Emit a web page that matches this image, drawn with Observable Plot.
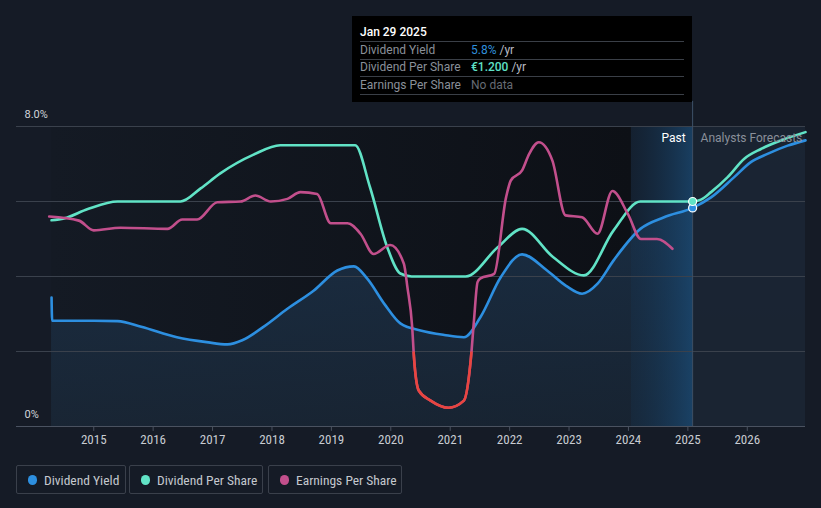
<!DOCTYPE html>
<html>
<head>
<meta charset="utf-8">
<script src="https://cdn.jsdelivr.net/npm/d3@7"></script>
<script src="https://cdn.jsdelivr.net/npm/@observablehq/plot@0.6"></script>
<style>
  html, body { margin: 0; padding: 0; background: #151b26; }
  #wrap { position: relative; width: 821px; height: 508px; background: #151b26; overflow: hidden; font-family: Roboto, "Noto Sans", sans-serif; }
  #chart { position: absolute; left: 0; top: 0; }
  #tip { position: absolute; left: 352px; top: 16px; width: 340px; height: 86px; background: #000; font-size: 12px; }
  #tip .row { position: absolute; left: 8px; width: 324px; height: 17px; border-bottom: 1px solid #3a3f47; }
  #tip .lab { position: absolute; left: 0; bottom: 2px; color: #8a9099; }
  #tip .val { position: absolute; left: 111px; bottom: 2px; color: #b8bcc3; }
  #legend { position: absolute; left: 16px; top: 465px; }
  .lg { position: absolute; top: 0; box-sizing: border-box; border: 1px solid #3a404b; border-radius: 2px; height: 29px; color: #c4c8ce; font-size: 13.5px; font-family: "Liberation Sans Narrow", "Roboto Condensed", "DejaVu Sans Condensed", Roboto, sans-serif; }
  .lg .dot { position: absolute; left: 11px; top: 9px; width: 9px; height: 10px; border-radius: 5px; }
  .lg .t { position: absolute; left: 27px; top: 6px; white-space: nowrap; }
</style>
</head>
<body>
<div id="wrap">
  <div id="chart"></div>
  <div id="tip">
    <div class="row" style="top:8px;height:17px"><span class="lab" style="color:#fff;font-weight:500">Jan 29 2025</span></div>
    <div class="row" style="top:26px"><span class="lab">Dividend Yield</span><span class="val"><span style="color:#2f8fdc">5.8%</span> /yr</span></div>
    <div class="row" style="top:43px"><span class="lab">Dividend Per Share</span><span class="val"><span style="color:#5fe0c6;font-weight:500">€1.200</span> /yr</span></div>
    <div class="row" style="top:61px"><span class="lab">Earnings Per Share</span><span class="val" style="color:#666b74">No data</span></div>
  </div>
  <div id="legend">
    <div class="lg" style="left:0;width:110px"><span class="dot" style="background:#2d8fe0"></span><span class="t">Dividend Yield</span></div>
    <div class="lg" style="left:113px;width:134px"><span class="dot" style="background:#61e3c6"></span><span class="t">Dividend Per Share</span></div>
    <div class="lg" style="left:252px;width:134px"><span class="dot" style="background:#c24f8c"></span><span class="t">Earnings Per Share</span></div>
  </div>
</div>
<script>
// ---- data ----
// Dividend yield (%)
const yieldYears = [2014.29, 2014.30, 2014.6, 2015.0, 2015.40, 2015.8, 2016.40, 2016.9, 2017.25, 2017.5, 2017.85, 2018.26, 2018.7, 2019.10, 2019.38, 2019.6, 2019.9, 2020.16, 2020.50, 2020.9, 2021.23, 2021.51, 2021.85, 2022.21, 2022.63, 2022.95, 2023.22, 2023.48, 2023.75, 2024.2, 2024.6, 2025.08, 2025.39, 2025.78, 2026.06, 2026.34, 2026.68, 2026.98];
const yieldPct   = [3.44, 2.82, 2.82, 2.82, 2.81, 2.66, 2.38, 2.25, 2.19, 2.30, 2.65, 3.14, 3.62, 4.16, 4.27, 3.95, 3.25, 2.75, 2.56, 2.44, 2.38, 2.92, 3.98, 4.59, 4.16, 3.75, 3.54, 3.81, 4.43, 5.27, 5.58, 5.83, 6.11, 6.65, 7.05, 7.27, 7.49, 7.63];
// Dividend per share (EUR)
const dpsYears = [2014.29, 2014.5, 2014.9, 2015.4, 2016.46, 2016.8, 2017.13, 2017.69, 2018.14, 2019.4, 2019.65, 2019.94, 2020.16, 2020.35, 2021.26, 2021.8, 2022.21, 2022.73, 2023.25, 2023.75, 2024.2, 2025.08, 2025.22, 2025.39, 2025.67, 2025.95, 2026.23, 2026.57, 2026.98];
const dpsEur   = [1.10, 1.11, 1.16, 1.20, 1.20, 1.27, 1.35, 1.45, 1.50, 1.50, 1.276, 0.956, 0.816, 0.80, 0.80, 0.956, 1.054, 0.904, 0.806, 1.046, 1.20, 1.20, 1.21, 1.25, 1.33, 1.428, 1.48, 1.526, 1.57];
// Earnings per share (EUR)
const epsYears = [2014.25, 2014.75, 2015.0, 2015.45, 2016.24, 2016.49, 2016.74, 2017.08, 2017.47, 2017.72, 2017.98, 2018.26, 2018.48, 2018.76, 2018.99, 2019.27, 2019.49, 2019.71, 2019.99, 2020.22, 2020.28, 2020.36, 2020.39, 2020.47, 2020.67, 2020.97, 2021.23, 2021.35, 2021.40, 2021.46, 2021.51, 2021.74, 2021.94, 2022.02, 2022.21, 2022.33, 2022.49, 2022.72, 2022.94, 2023.22, 2023.48, 2023.73, 2023.99, 2024.21, 2024.48, 2024.74];
const epsEur   = [1.80, 1.745, 1.615, 1.65, 1.635, 1.76, 1.76, 1.99, 2.0, 2.08, 2.0, 2.035, 2.125, 2.10, 1.71, 1.71, 1.57, 1.30, 1.42, 1.17, 0.855, 0.325, -0.075, -0.52, -0.655, -0.75, -0.655, -0.075, 0.415, 0.925, 0.975, 1.035, 2.055, 2.28, 2.415, 2.635, 2.79, 2.545, 1.815, 1.79, 1.57, 2.14, 1.835, 1.5, 1.5, 1.37];
const yTicks = [0, 2, 4, 6, 8];
const xTicks = [2015, 2016, 2017, 2018, 2019, 2020, 2021, 2022, 2023, 2024, 2025, 2026];
const pastStart = 2024.05, today = 2025.08, dataStart = 2014.29, xEnd = 2026.98;

// display mapping of secondary series onto the chart's % axis
const dpsToAxis = v => v * 5;       // €1.20 ↔ 6%
const epsToAxis = v => 2 + v * 2;   // EPS 0 ↔ 2%

const yieldData = yieldYears.map((x, i) => ({x, y: yieldPct[i]}));
const dpsData = dpsYears.map((x, i) => ({x, y: dpsToAxis(dpsEur[i])}));
const epsData = epsYears.map((x, i) => ({x, y: epsToAxis(epsEur[i])}));

const BLUE = "#2d8fe0", GREEN = "#61e3c6", MAG = "#c24f8c", RED = "#e8453f";
const NARROW = "'Liberation Sans Narrow', 'Roboto Condensed', 'DejaVu Sans Condensed', Roboto, sans-serif";

const chart = Plot.plot({
  width: 821, height: 460,
  marginLeft: 16, marginRight: 16, marginTop: 126, marginBottom: 34,
  style: {background: "transparent", fontFamily: "Roboto, sans-serif", overflow: "visible"},
  x: {domain: [2013.7, xEnd], axis: null},
  y: {domain: [0, 8], axis: null},
  marks: [
    Plot.rect([{a: dataStart, b: pastStart}], {x1: "a", x2: "b", y1: 0, y2: 8, fill: "url(#histGrad)"}),
    Plot.areaY(yieldData, {x: "x", y: "y", fill: "url(#areaGrad)", curve: "monotone-x"}),
    Plot.rect([{a: pastStart, b: today}], {x1: "a", x2: "b", y1: 0, y2: 8, fill: "url(#pastGrad)"}),
    Plot.rect([{a: today, b: xEnd}], {x1: "a", x2: "b", y1: 0, y2: 8, fill: "#1a2432", fillOpacity: 0.92}),
    Plot.ruleY(yTicks.filter(d => d > 0), {stroke: "#3a414c", strokeWidth: 1}),
    Plot.ruleY([0], {stroke: "#4a5260", strokeWidth: 1}),
    Plot.ruleX(xTicks, {x: d => d, y1: 0, y2: -0.13, stroke: "#4a5260"}),
    Plot.ruleX([today], {y1: 0, y2: 8.67, stroke: "#3d5068", strokeWidth: 1}),
    Plot.line(yieldData, {x: "x", y: "y", stroke: BLUE, strokeWidth: 2.6, curve: "monotone-x"}),
    Plot.line(dpsData, {x: "x", y: "y", stroke: GREEN, strokeWidth: 2.6, curve: "monotone-x"}),
    Plot.line(epsData, {x: "x", y: "y", stroke: MAG, strokeWidth: 2.6, curve: "monotone-x"}),
    Plot.line(epsData, {x: "x", y: "y", stroke: RED, strokeWidth: 2.6, curve: "monotone-x"}),
    Plot.dot([{x: today, y: yieldPct[yieldYears.indexOf(today)]}], {x: "x", y: "y", r: 4, fill: BLUE, stroke: "#fff", strokeWidth: 1.2}),
    Plot.dot([{x: today, y: dpsToAxis(dpsEur[dpsYears.indexOf(today)])}], {x: "x", y: "y", r: 4, fill: GREEN, stroke: "#fff", strokeWidth: 1.2}),
    Plot.text(xTicks, {x: d => d, y: 0, dy: 13, text: d => String(d), fill: "#c8ccd2", fontSize: 13, fontFamily: NARROW, textAnchor: "middle"}),
    Plot.text([8], {x: 2013.835, y: d => d, dy: -12, text: d => d.toFixed(1) + "%", fill: "#d0d4da", fontSize: 11, textAnchor: "start"}),
    Plot.text([0], {x: 2013.835, y: d => d, dy: -12, text: d => d + "%", fill: "#d0d4da", fontSize: 11, textAnchor: "start"}),
    Plot.text(["Past"], {x: today, y: 8, dx: -7, dy: 12, text: d => d, fill: "#ffffff", fontSize: 12, textAnchor: "end"}),
    Plot.text(["Analysts Forecasts"], {x: today, y: 8, dx: 8, dy: 12, text: d => d, fill: "#8a909a", fontSize: 12, textAnchor: "start"})
  ]
});
document.getElementById("chart").appendChild(chart);

// gradients & clip for negative EPS section
const svg = d3.select(chart);
const defs = svg.insert("defs", ":first-child");
const g1 = defs.append("linearGradient").attr("id", "histGrad").attr("x1", 0).attr("x2", 1).attr("y1", 0).attr("y2", 0);
g1.append("stop").attr("offset", 0).attr("stop-color", "#141a24");
g1.append("stop").attr("offset", 1).attr("stop-color", "#0d1016");
const g2 = defs.append("linearGradient").attr("id", "areaGrad").attr("x1", 0).attr("x2", 0).attr("y1", 0).attr("y2", 1);
g2.append("stop").attr("offset", 0).attr("stop-color", "#1c3550").attr("stop-opacity", 0.85);
g2.append("stop").attr("offset", 1).attr("stop-color", "#1a2838").attr("stop-opacity", 0.8);
const g3 = defs.append("linearGradient").attr("id", "pastGrad").attr("x1", 0).attr("x2", 1).attr("y1", 0).attr("y2", 0);
g3.append("stop").attr("offset", 0).attr("stop-color", "#12314e").attr("stop-opacity", 0.25);
g3.append("stop").attr("offset", 1).attr("stop-color", "#1a4a74").attr("stop-opacity", 0.75);

const ys = chart.scale("y");
const y2 = ys.apply(2), y0 = ys.apply(0);
defs.append("clipPath").attr("id", "negClip").append("rect")
  .attr("x", 0).attr("width", 821).attr("y", y2).attr("height", y0 - y2 + 10);
svg.selectAll('g[aria-label="line"]').filter(function() { return this.getAttribute("stroke") === RED; })
  .attr("clip-path", "url(#negClip)");
</script>
</body>
</html>
